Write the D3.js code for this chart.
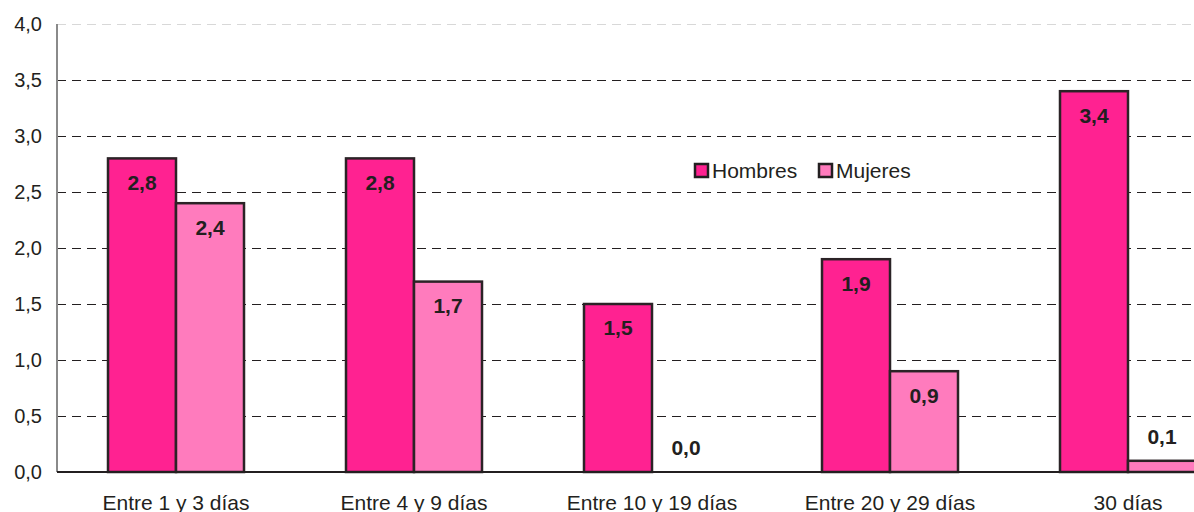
<!DOCTYPE html>
<html>
<head>
<meta charset="utf-8">
<script src="https://cdnjs.cloudflare.com/ajax/libs/d3/7.8.5/d3.min.js"></script>
<style>
  body { margin: 0; background: #fff; overflow: hidden; }
  svg { display: block; font-family: "Liberation Sans", Arial, sans-serif; }
</style>
</head>
<body>
<script>
// chart data
const categories = ["Entre 1 y 3 días", "Entre 4 y 9 días", "Entre 10 y 19 días", "Entre 20 y 29 días", "30 días"];
const seriesNames = ["Hombres", "Mujeres"];
const hombres = [2.8, 2.8, 1.5, 1.9, 3.4];
const mujeres = [2.4, 1.7, 0.0, 0.9, 0.1];
const yTicks = [0, 0.5, 1, 1.5, 2, 2.5, 3, 3.5, 4];
const colors = ["#ff2291", "#ff7bbd"];

const W = 1194, H = 512;
const mLeft = 57, mTop = 24, mBottom = 472;
const bandW = 238;

const svg = d3.select("body").append("svg")
  .attr("width", W).attr("height", H);

const x0 = d3.scaleBand()
  .domain(categories)
  .range([mLeft, mLeft + bandW * categories.length])
  .paddingInner(0).paddingOuter(0);

const x1 = d3.scaleBand()
  .domain(seriesNames)
  .range([51, bandW - 51]);

const y = d3.scaleLinear().domain([0, 4]).range([mBottom, mTop]);

const fmt = v => d3.format(".1f")(v).replace(".", ",");

// gridlines
svg.append("g").selectAll("line")
  .data(yTicks.filter(d => d > 0))
  .enter().append("line")
  .attr("x1", mLeft).attr("x2", W)
  .attr("y1", d => y(d) + 0.5).attr("y2", d => y(d) + 0.5)
  .attr("stroke", d => d === 4 ? "#d8d8d8" : "#231f20")
  .attr("stroke-width", 1)
  .attr("stroke-dasharray", "9,6");

// y axis labels
const yAxis = d3.axisLeft(y).tickValues(yTicks).tickFormat(fmt).tickSize(0).tickPadding(15);
const gy = svg.append("g").attr("transform", "translate(" + mLeft + ",0)").call(yAxis);
gy.select(".domain").remove();
gy.selectAll("text").attr("font-size", 20).attr("fill", "#231f20")
  .attr("font-family", "Liberation Sans, Arial, sans-serif");

// axis line
svg.append("line")
  .attr("x1", mLeft).attr("x2", mLeft)
  .attr("y1", mTop).attr("y2", mBottom)
  .attr("stroke", "#8a8a8a").attr("stroke-width", 2);

// bars
const rows = categories.map((c, i) => ({ cat: c, vals: [hombres[i], mujeres[i]] }));

const groups = svg.append("g").selectAll("g")
  .data(rows)
  .enter().append("g")
  .attr("transform", d => "translate(" + x0(d.cat) + ",0)");

groups.selectAll("rect")
  .data(d => d.vals.map((v, j) => ({ name: seriesNames[j], v: v, j: j })))
  .enter().append("rect")
  .attr("x", d => x1(d.name))
  .attr("y", d => y(d.v))
  .attr("width", x1.bandwidth())
  .attr("height", d => mBottom - y(d.v))
  .attr("fill", d => colors[d.j])
  .attr("stroke", d => d.v > 0 ? "#2b2326" : "none")
  .attr("stroke-width", 2.5);

// baseline
svg.append("line")
  .attr("x1", mLeft).attr("x2", W)
  .attr("y1", mBottom).attr("y2", mBottom)
  .attr("stroke", "#231f20").attr("stroke-width", 2);

// value labels
groups.selectAll("text.val")
  .data(d => d.vals.map((v, j) => ({ name: seriesNames[j], v: v, j: j })))
  .enter().append("text")
  .attr("class", "val")
  .attr("x", d => x1(d.name) + x1.bandwidth() / 2)
  .attr("y", d => (mBottom - y(d.v) < 40) ? y(d.v) - 24 : y(d.v) + 24)
  .attr("dy", "0.35em")
  .attr("text-anchor", "middle")
  .attr("font-size", 21).attr("font-weight", "bold")
  .attr("fill", "#231f20")
  .text(d => fmt(d.v));

// x axis labels
const xAxis = d3.axisBottom(x0).tickSize(0).tickPadding(0);
const gx = svg.append("g").attr("transform", "translate(0," + mBottom + ")").call(xAxis);
gx.select(".domain").remove();
gx.selectAll("text").attr("font-size", 21).attr("fill", "#231f20")
  .attr("font-family", "Liberation Sans, Arial, sans-serif")
  .attr("dy", null).attr("y", 38);

// legend
const legend = svg.append("g").attr("transform", "translate(694,163)");
const legX = [0, 124];
seriesNames.forEach((n, i) => {
  legend.append("rect")
    .attr("x", legX[i] + 1).attr("y", 1)
    .attr("width", 13).attr("height", 13)
    .attr("fill", colors[i]).attr("stroke", "#231f20").attr("stroke-width", 2.5);
  legend.append("text")
    .attr("x", legX[i] + 18).attr("y", 7.5)
    .attr("dy", "0.35em")
    .attr("font-size", 21).attr("fill", "#231f20")
    .text(n);
});
</script>
</body>
</html>
